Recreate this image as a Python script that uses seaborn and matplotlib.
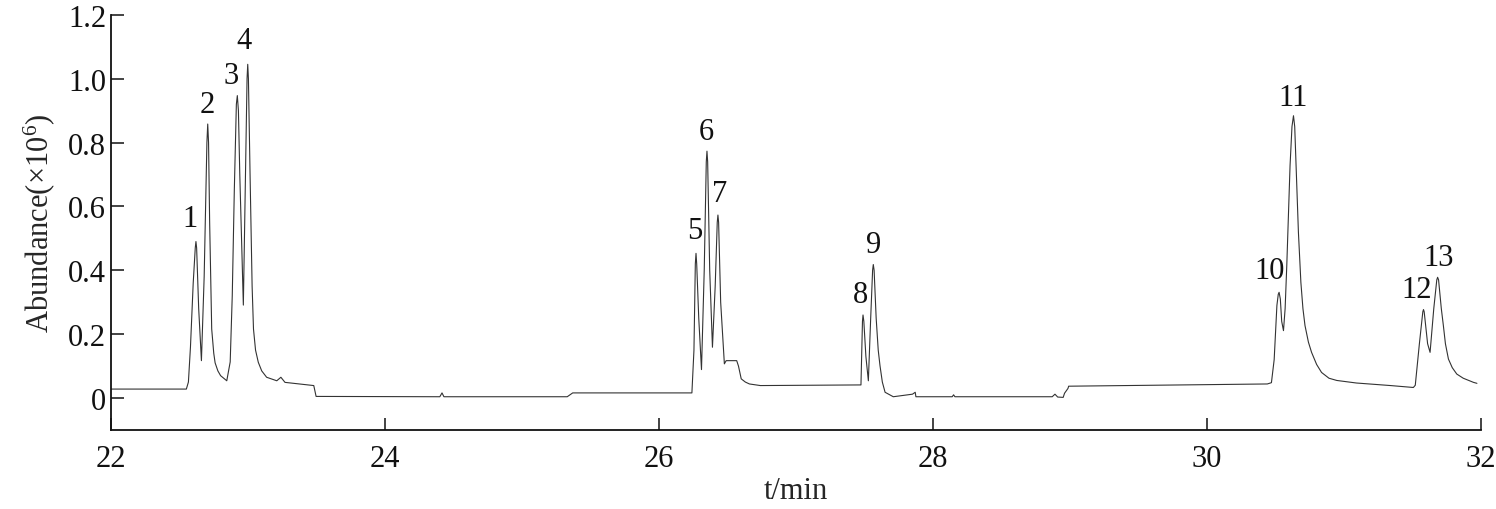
import pandas as pd
import numpy as np
import matplotlib
matplotlib.use("Agg")
import matplotlib.pyplot as plt
import seaborn as sns

# ===== Data =====
time_min = [
    22.00, 22.55, 22.565, 22.58, 22.60, 22.615, 22.62, 22.625, 22.64, 22.66,
    22.68, 22.70, 22.706, 22.712, 22.72, 22.735, 22.75, 22.76, 22.78, 22.80,
    22.845, 22.87, 22.885, 22.90, 22.915, 22.922, 22.93, 22.94, 22.966, 22.98,
    22.993, 22.998, 23.003, 23.015, 23.03, 23.04, 23.055, 23.075, 23.10, 23.136,
    23.21, 23.24, 23.27, 23.48, 23.497, 24.40, 24.416, 24.43, 25.33, 25.37,
    26.24, 26.255, 26.265, 26.27, 26.275, 26.29, 26.31, 26.33, 26.345, 26.35,
    26.355, 26.37, 26.39, 26.41, 26.425, 26.43, 26.435, 26.45, 26.477, 26.49,
    26.567, 26.58, 26.60, 26.63, 26.66, 26.74, 27.474, 27.485, 27.489, 27.495,
    27.51, 27.528, 27.545, 27.559, 27.564, 27.57, 27.585, 27.60, 27.613, 27.63,
    27.65, 27.71, 27.85, 27.87, 27.875, 28.14, 28.15, 28.16, 28.87, 28.89,
    28.91, 28.95, 28.96, 28.985, 28.99, 30.44, 30.47, 30.49, 30.51, 30.52,
    30.526, 30.535, 30.545, 30.558, 30.57, 30.582, 30.606, 30.62, 30.631, 30.64,
    30.65, 30.667, 30.685, 30.70, 30.715, 30.74, 30.763, 30.80, 30.836, 30.89,
    30.947, 31.09, 31.34, 31.506, 31.52, 31.55, 31.575, 31.58,
    31.585, 31.61, 31.628, 31.655, 31.677, 31.683, 31.69, 31.71, 31.725, 31.74,
    31.762, 31.79, 31.823, 31.87, 31.91, 31.945, 31.97,
]
abundance = [
    0.028, 0.028, 0.05, 0.16, 0.36, 0.47, 0.49, 0.47, 0.28, 0.117,
    0.38, 0.80, 0.858, 0.80, 0.55, 0.216, 0.14, 0.11, 0.085, 0.07,
    0.054, 0.113, 0.32, 0.65, 0.92, 0.947, 0.90, 0.70, 0.291, 0.65,
    1.00, 1.045, 1.00, 0.70, 0.35, 0.216, 0.15, 0.112, 0.085, 0.065,
    0.054, 0.065, 0.049, 0.039, 0.005, 0.004, 0.016, 0.004, 0.004, 0.016,
    0.016, 0.15, 0.42, 0.453, 0.42, 0.25, 0.089, 0.40, 0.74, 0.773,
    0.74, 0.40, 0.159, 0.35, 0.55, 0.573, 0.55, 0.30, 0.107, 0.117,
    0.117, 0.10, 0.06, 0.05, 0.044, 0.039, 0.041, 0.24, 0.26, 0.24,
    0.13, 0.054, 0.25, 0.40, 0.418, 0.40, 0.25, 0.15, 0.101, 0.05,
    0.018, 0.004, 0.012, 0.018, 0.004, 0.004, 0.010, 0.004, 0.004, 0.012,
    0.003, 0.002, 0.015, 0.030, 0.037, 0.044, 0.048, 0.12, 0.29, 0.325,
    0.331, 0.31, 0.24, 0.211, 0.28, 0.414, 0.728, 0.85, 0.884, 0.85,
    0.728, 0.519, 0.362, 0.28, 0.227, 0.175, 0.143, 0.105, 0.08, 0.062,
    0.055, 0.047, 0.039, 0.033, 0.04, 0.17, 0.27, 0.277,
    0.27, 0.17, 0.143, 0.28, 0.37, 0.378, 0.37, 0.28, 0.227, 0.17,
    0.122, 0.095, 0.075, 0.062, 0.055, 0.049, 0.046,
]

# peak numbers and where their labels sit
peak_ids = ["1", "2", "3", "4", "5", "6", "7", "8", "9", "10", "11", "12", "13"]
label_t = [22.577, 22.70, 22.88, 22.97, 26.258, 26.343, 26.445, 27.472, 27.569,
           30.455, 30.63, 31.53, 31.69]
label_a = [0.561, 0.92, 1.01, 1.12, 0.526, 0.835, 0.639, 0.323, 0.482,
           0.399, 0.942, 0.341, 0.441]

x_ticks = [22, 24, 26, 28, 30, 32]
y_ticks = [0, 0.2, 0.4, 0.6, 0.8, 1.0, 1.2]
y_tick_labels = ["0", "0.2", "0.4", "0.6", "0.8", "1.0", "1.2"]

df = pd.DataFrame({"t": time_min, "abundance": abundance})

# ===== Plot settings =====
sns.set_style("ticks")
plt.rcParams["font.family"] = ["Liberation Serif", "DejaVu Serif"]
plt.rcParams["mathtext.fontset"] = "custom"
plt.rcParams["mathtext.rm"] = "Liberation Serif"
plt.rcParams["mathtext.it"] = "Liberation Serif:italic"

fig = plt.figure(figsize=(14.96, 5.10), dpi=100)
ax = fig.add_axes([0.0742, 0.155, 0.9158, 0.814])

sns.lineplot(data=df, x="t", y="abundance", ax=ax, color="#333333",
             linewidth=0.8, sort=False)

for pid, tx, ty in zip(peak_ids, label_t, label_a):
    ax.text(tx, ty, pid, fontsize=22, ha="center", va="center", color="#111111")

ax.set_xlim(22, 32)
ax.set_ylim(-0.1, 1.2)
ax.set_xticks(x_ticks)
ax.set_yticks(y_ticks)
ax.set_yticklabels(y_tick_labels)
ax.tick_params(direction="in", length=9, width=1.1, labelsize=22, colors="#111111")
ax.tick_params(axis="x", pad=10)
ax.set_xlabel("t/min", fontsize=22, labelpad=2)
ax.set_ylabel("Abundance(×10$^{6}$)", fontsize=22, labelpad=8)
sns.despine(ax=ax)
for side in ["left", "bottom"]:
    ax.spines[side].set_linewidth(1.3)
    ax.spines[side].set_color("#111111")

fig.savefig("out.png", dpi=100)
